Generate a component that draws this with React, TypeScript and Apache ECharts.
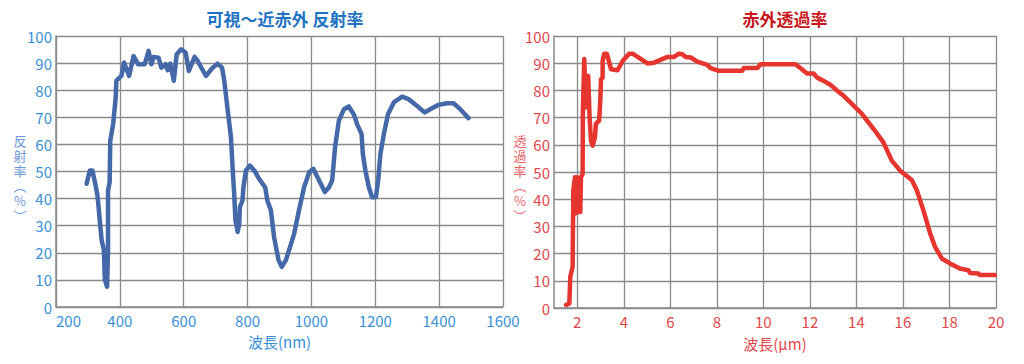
import React, { useEffect, useRef } from "react";
import * as echarts from "echarts";

// 可視～近赤外 反射率
const reflWavelength = [296, 306, 314, 322, 329, 332, 337, 343, 350, 353, 360, 363, 363, 368, 370, 379, 387, 389, 405, 413, 429, 443, 457, 478, 490, 499, 506, 521, 530, 543, 550, 558, 569, 578, 592, 606, 616, 634, 644, 655, 670, 689, 706, 720, 727, 738, 748, 753, 758, 762, 769, 774, 776, 784, 787, 795, 807, 821, 836, 855, 862, 873, 883, 897, 907, 920, 930, 946, 961, 977, 993, 1006, 1024, 1042, 1055, 1065, 1074, 1086, 1102, 1117, 1133, 1143, 1157, 1161, 1169, 1180, 1190, 1202, 1209, 1216, 1227, 1240, 1258, 1284, 1304, 1330, 1354, 1372, 1398, 1424, 1445, 1466, 1492];
const reflValue = [45.5, 50.4, 50.4, 46, 41.8, 38.7, 32, 24.6, 21, 10, 7.5, 21, 43, 46, 61.4, 67.5, 77.3, 83.5, 85.3, 90.2, 85.3, 92.6, 89.6, 89.6, 94.5, 89.6, 92.3, 92, 88.3, 89.6, 87.4, 89.8, 83.5, 93.3, 95.1, 93.9, 87.1, 92.3, 90.8, 88.3, 85.3, 88.1, 89.8, 88.3, 83.5, 72.4, 62.6, 51.6, 41.8, 32, 27.7, 30.8, 36.9, 39.3, 44.2, 50.4, 52.2, 50.4, 47.3, 44.2, 39.3, 35.7, 25.8, 17.3, 14.8, 17.3, 21, 27.1, 35.7, 44.2, 49.7, 51, 46.7, 42.4, 44.2, 46.7, 58.9, 68.8, 73, 74, 71, 67.5, 63.9, 56.5, 50.4, 44.2, 40.5, 40.5, 46.7, 56.5, 63.9, 71.2, 75.5, 77.6, 76.7, 74.3, 71.8, 73, 74.6, 75.2, 75.2, 73, 69.7];

// 赤外透過率
const transWavelength = [1.52, 1.66, 1.7, 1.8, 1.83, 1.9, 1.91, 1.99, 2.02, 2.13, 2.16, 2.23, 2.24, 2.3, 2.37, 2.42, 2.47, 2.53, 2.59, 2.66, 2.76, 2.8, 2.94, 2.99, 3.02, 3.09, 3.09, 3.16, 3.27, 3.45, 3.73, 3.95, 4.23, 4.38, 5.02, 5.3, 5.88, 6.16, 6.37, 6.52, 6.66, 6.88, 7.16, 7.59, 7.73, 8.09, 9.09, 9.16, 9.74, 9.88, 11.38, 11.59, 11.88, 12.16, 12.31, 12.59, 12.88, 13.17, 13.45, 13.74, 14.2, 14.74, 15.16, 15.52, 15.88, 16.38, 16.6, 16.88, 17.17, 17.38, 17.67, 18.02, 18.45, 18.81, 18.88, 19.24, 19.31, 19.95];
const transValue = [1.1, 1.7, 11.5, 15.1, 43.2, 48.1, 34.7, 48.1, 35.3, 35.3, 48.1, 49.3, 71.3, 91.5, 73.7, 84.7, 85.3, 70.1, 61.5, 59.7, 62.7, 67.7, 68.9, 76.2, 84.1, 84.7, 90.8, 93.5, 93.5, 87.8, 87.4, 90.8, 93.5, 93.5, 89.9, 90.2, 92.3, 92.3, 93.5, 93.3, 92.3, 92.1, 90.6, 89.4, 88.2, 87.2, 87.2, 88.2, 88.2, 89.6, 89.6, 88.2, 86.2, 86.2, 84.7, 83.5, 82.1, 79.9, 78, 75.6, 71.7, 65.8, 60.9, 54.2, 50.5, 47.1, 43.2, 35.9, 27.4, 22.5, 18.2, 16.4, 14.5, 13.9, 12.9, 12.7, 12.1, 12.1];

const rightXTicks = [2, 4, 6, 8, 10, 12, 14, 16, 18, 20];
const leftYNameChars = ["反", "射", "率", "︵", "%", "︶"];
const rightYNameChars = ["透", "過", "率", "︵", "%", "︶"];

const FONT = "'Noto Sans CJK JP', 'Noto Sans', sans-serif";
const GRIDC = "#8a8a8a";
const BLUE_LABEL = "#3a8fd6";
const RED_LABEL = "#e0474c";

export default function App() {
  const ref = useRef<HTMLDivElement>(null);
  useEffect(() => {
    if (!ref.current) return;
    const chart = echarts.init(ref.current, null, { renderer: "svg" });
    const plain = (v: number) => String(v);
    const axisCommon = (color: string) => ({
      axisLine: { show: true, lineStyle: { color: GRIDC, width: 1.5 } },
      axisTick: { show: false },
      splitLine: { show: true, lineStyle: { color: GRIDC, width: 1.3 } },
      nameTextStyle: { color, fontSize: 15, fontFamily: FONT },
    });
    const charYs = [140, 155, 170, 185, 200, 215];
    const vertName = (chars: string[], x: number, color: string) =>
      chars.map((c, i) => ({
        type: "text",
        x,
        y: charYs[i],
        style: {
          text: c,
          fill: color,
          font: `13px ${FONT}`,
          align: "center",
          verticalAlign: "middle",
        },
      }));
    chart.setOption({
      animation: false,
      textStyle: { fontFamily: FONT },
      title: [
        {
          text: "可視～近赤外 反射率",
          left: 280,
          top: 5,
          textAlign: "center",
          textStyle: { color: "#1f73c2", fontSize: 17, fontWeight: "bold", fontFamily: FONT },
        },
        {
          text: "赤外透過率",
          left: 780,
          top: 5,
          textAlign: "center",
          textStyle: { color: "#c8161d", fontSize: 17, fontWeight: "bold", fontFamily: FONT },
        },
      ],
      graphic: [
        ...vertName(leftYNameChars, 20, "#6f9ad8"),
        ...vertName(rightYNameChars, 520, "#e8656a"),
      ],
      grid: [
        { left: 56, top: 36, width: 447, height: 271, containLabel: false },
        { left: 554, top: 36, width: 442, height: 272, containLabel: false },
      ],
      xAxis: [
        {
          type: "value",
          gridIndex: 0,
          min: 200,
          max: 1600,
          interval: 200,
          name: "波長(nm)",
          nameLocation: "middle",
          nameGap: 27,
          ...axisCommon(BLUE_LABEL),
          axisLabel: { color: BLUE_LABEL, fontSize: 15, fontFamily: FONT, margin: 6, formatter: plain, alignMinLabel: "left" },
        },
        {
          type: "value",
          gridIndex: 1,
          min: 1,
          max: 20,
          name: "波長(μm)",
          nameLocation: "middle",
          nameGap: 28,
          ...axisCommon(RED_LABEL),
          axisTick: { show: false, customValues: rightXTicks },
          axisLabel: { color: RED_LABEL, fontSize: 15, fontFamily: FONT, margin: 6, customValues: rightXTicks, formatter: plain },
        },
      ],
      yAxis: [
        {
          type: "value",
          gridIndex: 0,
          min: 0,
          max: 100,
          interval: 10,
          ...axisCommon(BLUE_LABEL),
          axisLabel: { color: BLUE_LABEL, fontSize: 15, fontFamily: FONT, margin: 4, formatter: plain },
        },
        {
          type: "value",
          gridIndex: 1,
          min: 0,
          max: 100,
          interval: 10,
          ...axisCommon(RED_LABEL),
          axisLabel: { color: RED_LABEL, fontSize: 15, fontFamily: FONT, margin: 4, formatter: plain },
        },
      ],
      series: [
        {
          type: "line",
          xAxisIndex: 0,
          yAxisIndex: 0,
          data: reflWavelength.map((x, i) => [x, reflValue[i]]),
          showSymbol: false,
          lineStyle: { color: "#4468a8", width: 4.5, join: "round", cap: "round" },
        },
        {
          type: "line",
          xAxisIndex: 1,
          yAxisIndex: 1,
          data: transWavelength.map((x, i) => [x, transValue[i]]),
          showSymbol: false,
          lineStyle: { color: "#e5352e", width: 4.5, join: "round", cap: "round" },
        },
      ],
    });
    return () => chart.dispose();
  }, []);
  return (
    <div
      ref={ref}
      style={{ position: "fixed", left: 0, top: 0, width: 1024, height: 364, background: "#fff" }}
    />
  );
}
